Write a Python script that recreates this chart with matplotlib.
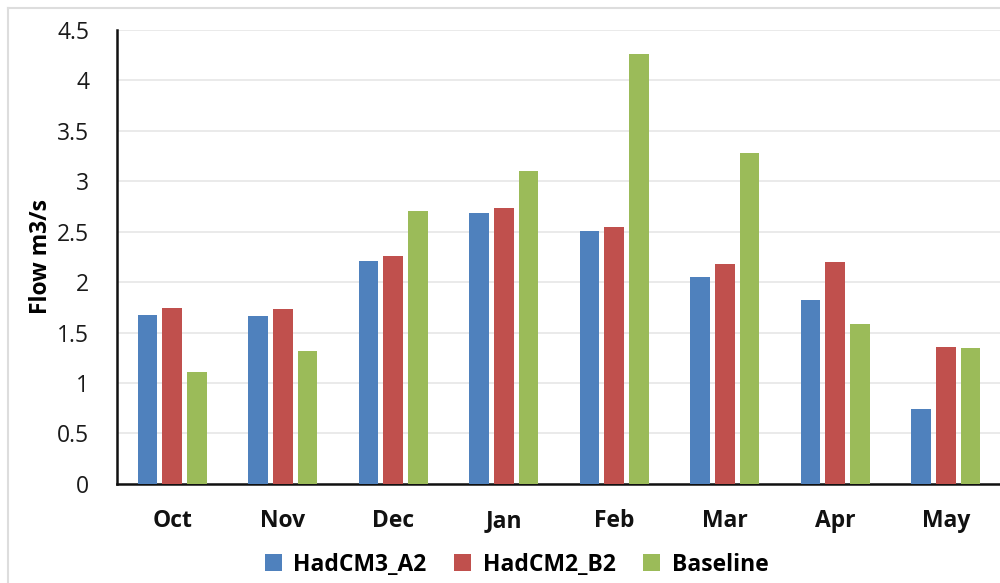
import matplotlib.pyplot as plt
from matplotlib.lines import Line2D
import numpy as np

plt.rcParams['font.family'] = ['Open Sans', 'DejaVu Sans']

months = ["Oct", "Nov", "Dec", "Jan", "Feb", "Mar", "Apr", "May"]
hadcm3_a2 = [1.67, 1.66, 2.21, 2.68, 2.51, 2.05, 1.82, 0.74]
hadcm2_b2 = [1.74, 1.73, 2.26, 2.73, 2.55, 2.18, 2.20, 1.36]
baseline = [1.11, 1.32, 2.70, 3.10, 4.26, 3.28, 1.58, 1.35]
yticks = [0, 0.5, 1, 1.5, 2, 2.5, 3, 3.5, 4, 4.5]

series = [
    ("HadCM3_A2", hadcm3_a2, "#4f81bd"),
    ("HadCM2_B2", hadcm2_b2, "#c0504d"),
    ("Baseline", baseline, "#9bbb59"),
]

fig = plt.figure(figsize=(10, 5.83), dpi=100)
ax = fig.add_axes([0.117, 0.170, 0.884, 0.779])

x = np.arange(len(months))
step = 0.222
width = 0.177
for i, (name, vals, color) in enumerate(series):
    ax.bar(x + (i - 1) * step, vals, width, color=color, label=name, zorder=3)

ax.set_xlim(-0.5, len(months) - 0.5)
ax.set_ylim(0, 4.5)
ax.set_yticks(yticks)
ax.set_yticklabels([f"{t:g}" for t in yticks], fontsize=16.5, color="#1a1a1a")
ax.set_xticks(x)
ax.set_xticklabels(months, fontsize=16.5, fontweight="bold", color="#111111")
ax.tick_params(axis="both", length=0)
ax.tick_params(axis="y", pad=20)
ax.tick_params(axis="x", pad=18)

ax.grid(axis="y", color="#e6e6e6", linewidth=1.2, zorder=0)
for side in ["top", "right"]:
    ax.spines[side].set_visible(False)
for side in ["left", "bottom"]:
    ax.spines[side].set_linewidth(1.8)
    ax.spines[side].set_color("#111111")

ax.set_ylabel("Flow m3/s", fontsize=16.5, fontweight="bold")
ax.yaxis.set_label_coords(-0.072, 0.5)

ax.legend(loc="center", bbox_to_anchor=(0.452, -0.178), ncol=3, frameon=False,
          prop={"size": 16.5, "weight": "bold"}, handlelength=0.75, handleheight=0.75,
          handletextpad=0.5, columnspacing=1.2)

# thin frame around the chart area
fig.add_artist(Line2D([0.008, 1.0], [1 - 8 / 583, 1 - 8 / 583], transform=fig.transFigure,
                      color="#dddddd", linewidth=1.5))
fig.add_artist(Line2D([0.008, 0.008], [0, 1 - 8 / 583], transform=fig.transFigure,
                      color="#dddddd", linewidth=1.5))

fig.savefig("out.png", dpi=100)
